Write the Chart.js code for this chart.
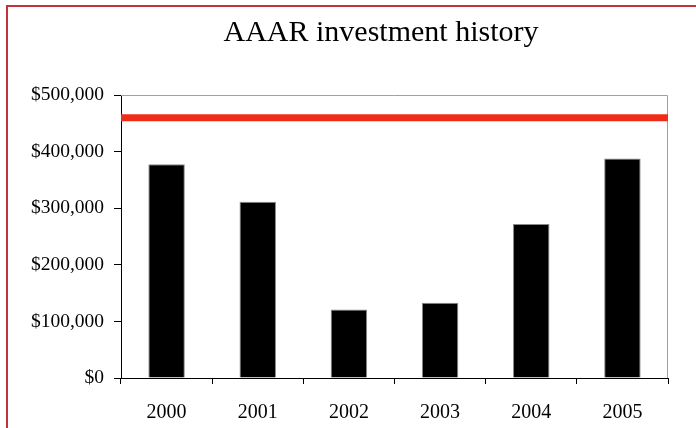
<!DOCTYPE html>
<html>
<head>
<meta charset="utf-8">
<script src="https://cdn.jsdelivr.net/npm/chart.js@4"></script>
<style>
  body { margin: 0; background: #fff; }
  #wrap { position: relative; width: 696px; height: 428px; }
  #frame { position: absolute; left: 6px; top: 5px; width: 800px; height: 500px;
           border-left: 2px solid #c4333d; border-top: 2px solid #c4333d; }
</style>
</head>
<body>
<div id="wrap">
  <canvas id="myChart" width="696" height="428"></canvas>
  <div id="frame"></div>
</div>
<script>
var years = ['2000', '2001', '2002', '2003', '2004', '2005'];
var invested = [377500, 311500, 121000, 133000, 272000, 388000];
var target = 460000;
var yTicks = [0, 100000, 200000, 300000, 400000, 500000];
var titleText = 'AAAR investment history';

var serif = '"Liberation Serif", "Times New Roman", serif';
var ctx = document.getElementById("myChart").getContext("2d");

// gray box line on top and right of the plot, plus the title
var plotFrame = {
  id: 'plotFrame',
  beforeDatasetsDraw: function(chart) {
    var a = chart.chartArea;
    var c = chart.ctx;
    c.save();
    c.strokeStyle = '#a0a0a0';
    c.lineWidth = 1;
    c.beginPath();
    c.moveTo(a.left, a.top + 0.5);
    c.lineTo(a.right - 0.5, a.top + 0.5);
    c.lineTo(a.right - 0.5, a.bottom);
    c.stroke();
    c.restore();
  },
  afterDraw: function(chart) {
    var c = chart.ctx;
    c.save();
    c.fillStyle = '#000';
    c.font = '30px ' + serif;
    c.textAlign = 'center';
    c.textBaseline = 'alphabetic';
    c.fillText(titleText, 381, 41);
    c.restore();
  }
};

var myNewChart = new Chart(ctx, {
  type: 'bar',
  data: {
    labels: years,
    datasets: [{
      label: 'Investment',
      data: invested,
      grouped: false,
      backgroundColor: '#000000',
      borderColor: '#8a8a8a',
      borderWidth: 1,
      barPercentage: 0.4,
      categoryPercentage: 1,
      order: 2
    }, {
      type: 'line',
      label: 'Target',
      data: [{x: 0, y: target}, {x: 1, y: target}],
      xAxisID: 'x2',
      borderColor: '#ee2c18',
      borderWidth: 7,
      pointRadius: 0,
      fill: false,
      order: 1
    }]
  },
  plugins: [plotFrame],
  options: {
    responsive: false,
    animation: false,
    layout: { padding: { left: 0, right: 28, top: 95, bottom: 0 } },
    plugins: {
      legend: { display: false },
      tooltip: { enabled: false },
      title: { display: false }
    },
    scales: {
      x: {
        offset: true,
        grid: { offset: true, drawOnChartArea: false, tickLength: 6, color: '#000', tickWidth: 1 },
        border: { color: '#000', width: 1 },
        ticks: {
          color: '#000',
          padding: 17,
          font: { family: serif, size: 20 }
        },
        afterFit: function(scale) { scale.height = 50; }
      },
      x2: {
        type: 'linear',
        display: false,
        offset: false,
        min: 0,
        max: 1
      },
      y: {
        min: 0,
        max: 500000,
        afterBuildTicks: function(scale) {
          scale.ticks = yTicks.map(function(v) { return { value: v }; });
        },
        grid: { drawOnChartArea: false, tickLength: 7, color: '#000', tickWidth: 1 },
        border: { color: '#000', width: 1 },
        ticks: {
          color: '#000',
          padding: 10,
          font: { family: serif, size: 19.5 },
          callback: function(v) { return '$' + Number(v).toLocaleString('en-US'); }
        },
        afterFit: function(scale) { scale.width = 121; }
      }
    }
  }
});
</script>
</body>
</html>
